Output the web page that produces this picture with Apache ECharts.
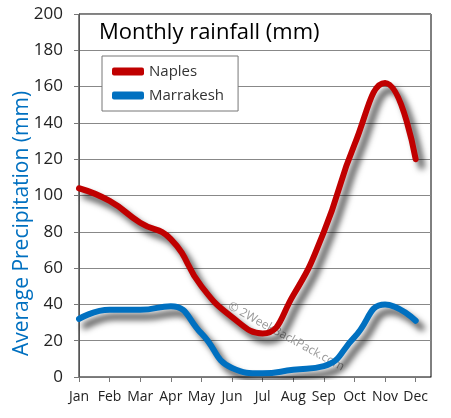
<!DOCTYPE html>
<html><head><meta charset="utf-8">
<script src="https://cdn.jsdelivr.net/npm/echarts@6/dist/echarts.min.js"></script>
<style>html,body{margin:0;padding:0;background:#fff}#c{width:451px;height:418px}</style>
</head><body><div id="c"></div>
<script>
const months = ['Jan','Feb','Mar','Apr','May','Jun','Jul','Aug','Sep','Oct','Nov','Dec'];
const naples = [104, 97, 85, 76, 50, 33, 24, 45, 80, 128, 162, 120];
const marrakesh = [32, 37, 37, 39, 24, 5, 2, 4, 6, 22, 40, 31];
const yTicks = [0, 20, 40, 60, 80, 100, 120, 140, 160, 180, 200];

const font = '"Open Sans", "DejaVu Sans", sans-serif';
const chart = echarts.init(document.getElementById('c'), null, {renderer: 'canvas'});
const toPts = arr => arr.map((v, i) => [i, v]);
const shadow = {shadowColor: 'rgba(0,0,0,0.7)', shadowBlur: 6, shadowOffsetX: 6, shadowOffsetY: 7};

chart.setOption({
  animation: false,
  backgroundColor: '#fff',
  grid: {left: 79, right: 20, top: 14, bottom: 41, show: true, borderColor: '#000', borderWidth: 1, containLabel: false},
  title: {text: 'Monthly rainfall (mm)', left: 94, top: 17, textStyle: {fontFamily: font, fontSize: 22, fontWeight: 'normal', color: '#000'}},
  legend: {
    orient: 'vertical', left: 102, top: 56, padding: [8, 14, 8, 10], itemGap: 9,
    borderColor: '#777', borderWidth: 1, backgroundColor: '#fff',
    itemWidth: 32, itemHeight: 8, icon: 'roundRect',
    textStyle: {fontFamily: font, fontSize: 15, color: '#333'},
    data: ['Naples', 'Marrakesh']
  },
  xAxis: {
    type: 'value', min: 0, max: 11.5, interval: 1,
    axisLine: {show: true, lineStyle: {color: '#777'}},
    axisTick: {show: true, length: 5, lineStyle: {color: '#777'}},
    splitLine: {show: false},
    axisLabel: {margin: 13, fontFamily: font, fontSize: 14, color: '#222',
      showMaxLabel: false,
      formatter: v => Number.isInteger(v) && months[v] ? months[v] : ''}
  },
  yAxis: {
    type: 'value', min: yTicks[0], max: yTicks[yTicks.length - 1], interval: 20,
    name: 'Average Precipitation (mm)', nameLocation: 'middle', nameGap: 46, nameMoveOverlap: false,
    nameTextStyle: {fontFamily: font, fontSize: 21, color: '#0070c0', padding: [0, 56, 0, 0]},
    axisLine: {show: true, lineStyle: {color: '#555'}},
    axisTick: {show: true, length: 5, lineStyle: {color: '#777'}},
    splitLine: {show: true, lineStyle: {color: '#888', width: 1}},
    axisLabel: {margin: 16, fontFamily: font, fontSize: 17, color: '#222'}
  },
  graphic: [{
    type: 'text', left: 226, top: 300, rotation: -0.5, silent: true,
    style: {text: '© 2WeekBackPack.com', font: '12px ' + font, fill: 'rgba(120,120,120,0.75)'}
  }],
  series: [
    {name: 'Naples', type: 'line', data: toPts(naples), smooth: 0.5, showSymbol: false, symbol: 'none',
     itemStyle: {color: '#c00000'}, lineStyle: Object.assign({color: '#c00000', width: 6, cap: 'round'}, shadow), z: 3},
    {name: 'Marrakesh', type: 'line', data: toPts(marrakesh), smooth: 0.5, showSymbol: false, symbol: 'none',
     itemStyle: {color: '#0070c0'}, lineStyle: Object.assign({color: '#0070c0', width: 6, cap: 'round'}, shadow), z: 2}
  ]
});
</script></body></html>
